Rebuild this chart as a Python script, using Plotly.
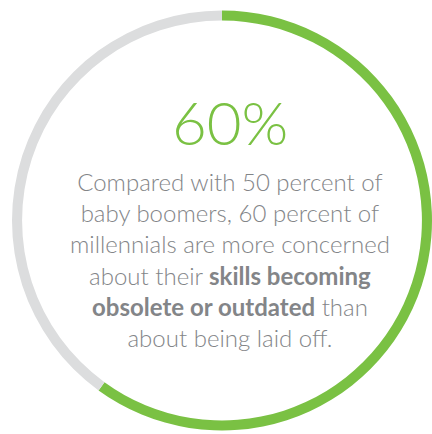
import plotly.graph_objects as go

labels = ["Millennials concerned", "Other"]
values = [60, 40]
colors = ["#7AC143", "#DCDDDE"]

headline = "60%"
body_lines = [
    "Compared with 50 percent of",
    "baby boomers, 60 percent of",
    "millennials are more concerned",
    "about their <b>skills becoming</b>",
    "<b>obsolete or outdated</b> than",
    "about being laid off.",
]

W, H = 432, 434

fig = go.Figure(go.Pie(
    labels=labels,
    values=values,
    marker=dict(colors=colors, line=dict(width=0)),
    hole=0.952,
    sort=False,
    direction="clockwise",
    rotation=0,
    textinfo="none",
    hoverinfo="none",
    showlegend=False,
    domain=dict(x=[12 / W, 1.0], y=[1 - 431 / H, 1 - 10 / H]),
))

fig.add_annotation(
    text=headline, x=230 / W, y=1 - 122 / H, xref="paper", yref="paper",
    showarrow=False, xanchor="center", yanchor="middle",
    font=dict(family="Lato", size=60, color="#7AC143", weight=300),
)

fig.add_annotation(
    text="<br>".join(body_lines), x=230 / W, y=1 - 259 / H, xref="paper", yref="paper",
    showarrow=False, xanchor="center", yanchor="middle", align="center",
    font=dict(family="Lato", size=24, color="#838588", weight=300),
)

fig.update_layout(
    width=W, height=H,
    margin=dict(l=0, r=0, t=0, b=0),
    paper_bgcolor="white", plot_bgcolor="white",
)

fig.write_html("out.html")
